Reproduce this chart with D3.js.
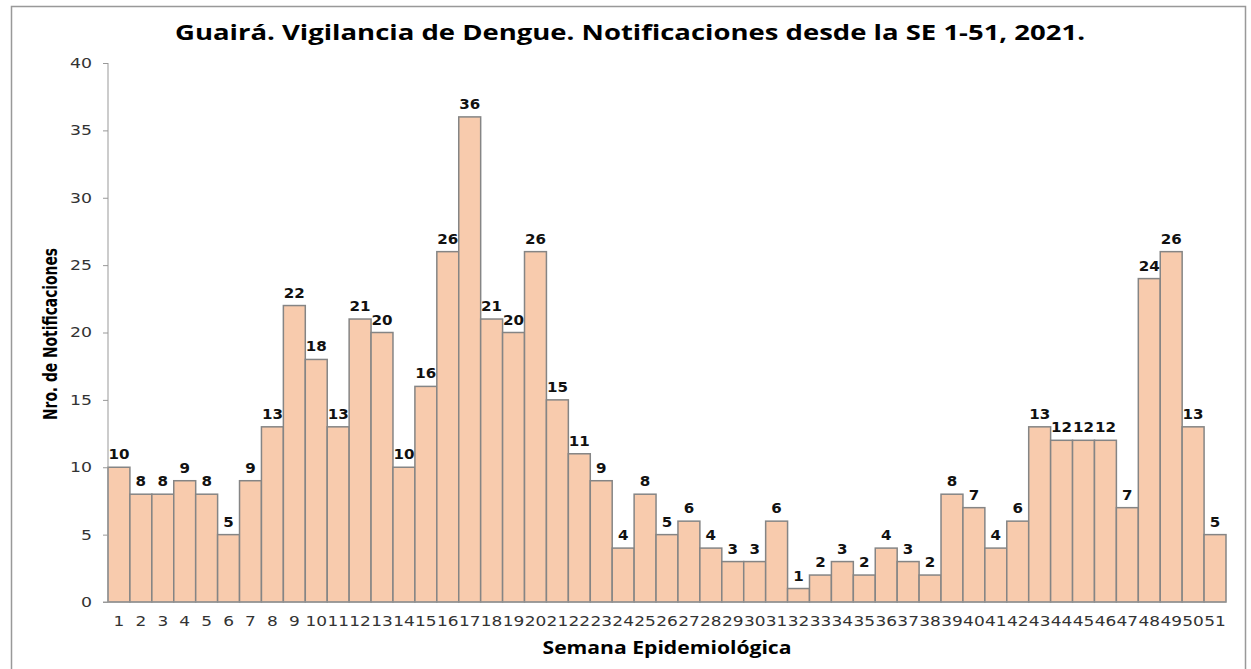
<!DOCTYPE html>
<html>
<head>
<meta charset="utf-8">
<script src="https://cdn.jsdelivr.net/npm/d3@7"></script>
<style>
  body { margin: 0; background: #fff; }
  .tick text { font-family: "DejaVu Sans", Verdana, sans-serif; font-size: 14px; fill: #333; }
  .label { font-family: "Open Sans", sans-serif; font-weight: bold; fill: #000; }
  .val { font-family: "DejaVu Sans", Verdana, sans-serif; font-weight: bold; font-size: 14px; fill: #111; text-anchor: middle; }
</style>
</head>
<body>
<div class="chart"></div>
<script>
// data
var semanas = d3.range(1, 52).map(String);
var notificaciones = [10, 8, 8, 9, 8, 5, 9, 13, 22, 18, 13, 21, 20, 10, 16, 26, 36, 21, 20, 26,
  15, 11, 9, 4, 8, 5, 6, 4, 3, 3, 6, 1, 2, 3, 2, 4, 3, 2, 8, 7,
  4, 6, 13, 12, 12, 12, 7, 24, 26, 13, 5];
var yTicks = [0, 5, 10, 15, 20, 25, 30, 35, 40];

// dimensions
var W = 1251, H = 669;
var margin = {top: 63, right: 25, bottom: 67, left: 108};
var width = W - margin.left - margin.right;
var height = H - margin.top - margin.bottom;

// stretch text horizontally like the source picture
function stretch(sel, perChar) {
  sel.attr("textLength", function() { return this.textContent.length * perChar; })
    .attr("lengthAdjust", "spacingAndGlyphs");
}

var svg = d3.select(".chart").append("svg")
  .attr("width", W)
  .attr("height", H);

// outer frame
svg.append("path")
  .attr("d", "M11.5," + H + "V6.5H1245.5V" + H)
  .attr("fill", "none")
  .attr("stroke", "#999")
  .attr("stroke-width", 1.5);

var chart = svg.append("g")
  .attr("transform", "translate(" + margin.left + "," + margin.top + ")");

// scales
var x = d3.scaleBand().domain(semanas).range([0, width]).padding(0);
var y = d3.scaleLinear().domain([0, 40]).range([height, 0]);

// bars
chart.selectAll(".bar")
  .data(notificaciones)
  .enter()
  .append("rect")
  .attr("class", "bar")
  .attr("x", function(d, i) { return x(semanas[i]); })
  .attr("width", x.bandwidth())
  .attr("y", function(d) { return y(d); })
  .attr("height", function(d) { return height - y(d); })
  .attr("fill", "#F8CBAD")
  .attr("stroke", "#858585")
  .attr("stroke-width", 1.5);

// value labels
chart.selectAll(".val")
  .data(notificaciones)
  .enter()
  .append("text")
  .attr("class", "val")
  .attr("x", function(d, i) { return x(semanas[i]) + x.bandwidth() / 2; })
  .attr("y", function(d) { return y(d) - 8; })
  .text(function(d) { return d; })
  .call(stretch, 10.5);

// axes
var yAxis = chart.append("g")
  .call(d3.axisLeft(y).tickValues(yTicks).tickSize(5).tickPadding(11));
yAxis.select(".domain").attr("stroke", "#999").attr("d", "M0," + height + "V0");
yAxis.selectAll(".tick line").attr("stroke", "#999");
yAxis.selectAll(".tick text").call(stretch, 11);

var xAxis = chart.append("g")
  .attr("transform", "translate(0," + height + ")")
  .call(d3.axisBottom(x).tickSize(0).tickPadding(14));
xAxis.select(".domain").attr("stroke", "#999").attr("d", "M-5,0H" + width);
xAxis.selectAll(".tick text").call(stretch, 10.8);

// title
svg.append("text")
  .attr("class", "label")
  .attr("x", 630)
  .attr("y", 40)
  .attr("text-anchor", "middle")
  .attr("textLength", 910)
  .attr("lengthAdjust", "spacingAndGlyphs")
  .style("font-size", "22px")
  .text("Guairá. Vigilancia de Dengue. Notificaciones desde la SE 1-51, 2021.");

// x label
svg.append("text")
  .attr("class", "label")
  .attr("x", 667)
  .attr("y", 654)
  .attr("text-anchor", "middle")
  .attr("textLength", 249)
  .attr("lengthAdjust", "spacingAndGlyphs")
  .style("font-size", "17px")
  .text("Semana Epidemiológica");

// y label
svg.append("text")
  .attr("transform", "translate(57,334) rotate(-90)")
  .attr("text-anchor", "middle")
  .attr("textLength", 172)
  .attr("lengthAdjust", "spacingAndGlyphs")
  .style("font-family", "'Liberation Sans Narrow', 'DejaVu Sans Condensed', sans-serif")
  .style("font-stretch", "condensed")
  .style("font-weight", "bold")
  .style("font-size", "20px")
  .text("Nro. de Notificaciones");
</script>
</body>
</html>
